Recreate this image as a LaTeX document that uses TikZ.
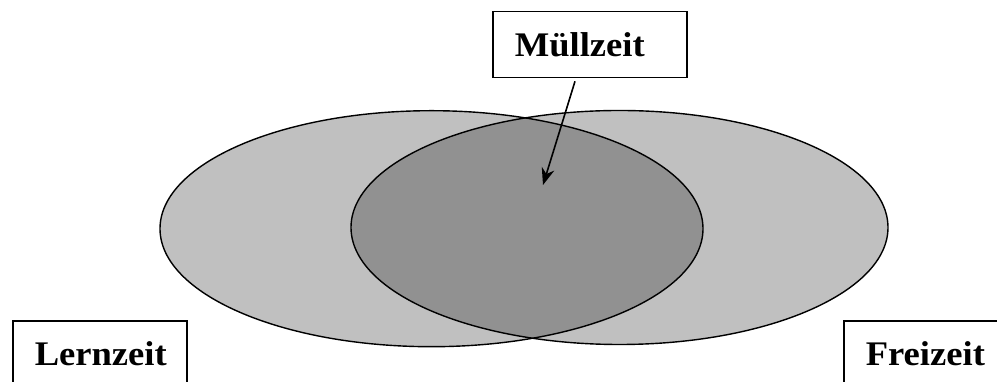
\documentclass[tikz,border=0pt]{standalone}
\usepackage{fontspec}
\setmainfont{Liberation Serif}[FakeStretch=1.06]
\usetikzlibrary{arrows.meta}
\definecolor{lightg}{RGB}{192,192,192}
\definecolor{darkg}{RGB}{145,145,145}
\begin{document}
\begin{tikzpicture}[x=1pt,y=1pt,
  setline/.style={line width=1.4pt},
  labelbox/.style={draw, line width=1.6pt, fill=white, anchor=north west,
    minimum height=66pt, text width=150pt, inner xsep=22pt, inner ysep=0pt, align=left,
    font=\bfseries\fontsize{34.5}{38}\selectfont},
  arr/.style={line width=1.6pt, -{Stealth[length=17pt,width=13pt]}}]
\useasboundingbox (0,0) rectangle (997,382);
\clip (0,0) rectangle (997,382);
% ellipses
\fill[lightg] (431.5,153.3) ellipse [x radius=271.5, y radius=118];
\fill[lightg] (619.5,154.5) ellipse [x radius=268.5, y radius=117];
\begin{scope}
  \clip (431.5,153.3) ellipse [x radius=271.5, y radius=118];
  \fill[darkg] (619.5,154.5) ellipse [x radius=268.5, y radius=117];
\end{scope}
\draw[setline] (431.5,153.3) ellipse [x radius=271.5, y radius=118];
\draw[setline] (619.5,154.5) ellipse [x radius=268.5, y radius=117];
% boxes
\node[labelbox] (m) at (492,371.3) {Müllzeit};
\node[labelbox, text width=130pt] (l) at (12,62) {Lernzeit};
\node[labelbox] (f) at (843,62) {Freizeit};
% arrow
\path (m.south west) ++(83,-3) coordinate (start);
\coordinate (tip) at (543,197);
\draw[arr] (start) -- (tip);
\end{tikzpicture}
\end{document}
